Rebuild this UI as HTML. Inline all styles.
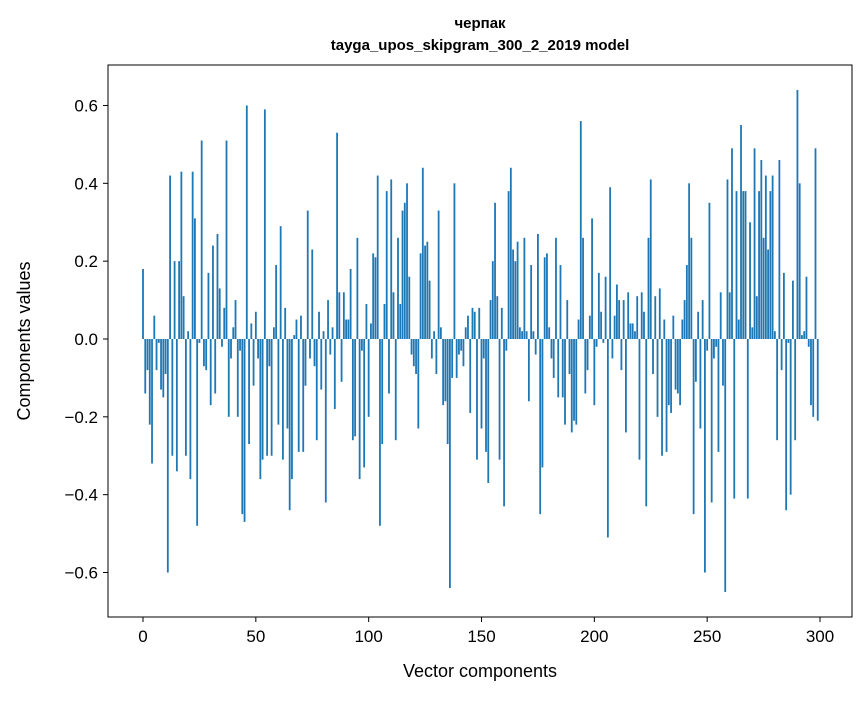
<!DOCTYPE html>
<html><head><meta charset="utf-8"><style>
body{margin:0;background:#fff;font-family:"Liberation Sans","DejaVu Sans",sans-serif;}
svg text{font-family:"Liberation Sans","DejaVu Sans",sans-serif;fill:#000;}
</style></head><body>
<svg id="chart" width="867" height="696" viewBox="0 0 867 696">
<text x="480" y="28" text-anchor="middle" font-size="15" font-weight="bold">черпак</text>
<text x="480" y="50" text-anchor="middle" font-size="15" font-weight="bold">tayga_upos_skipgram_300_2_2019 model</text>
<g id="bars"></g>
<rect x="108" y="65" width="744" height="552" fill="none" stroke="#000" stroke-width="1"/>
<g id="xticks"></g>
<g id="yticks"></g>
<text x="480" y="677" text-anchor="middle" font-size="18">Vector components</text>
<text x="30" y="341" text-anchor="middle" font-size="18" transform="rotate(-90 30 341)">Components values</text>
</svg>
<script>
const values=[0.18,-0.14,-0.08,-0.22,-0.32,0.06,-0.08,-0.01,-0.13,-0.15,
-0.09,-0.6,0.42,-0.3,0.2,-0.34,0.2,0.43,0.11,-0.3,
0.02,-0.36,0.43,0.31,-0.48,-0.01,0.51,-0.07,-0.08,0.17,
-0.17,0.24,-0.14,0.27,0.13,-0.02,0.08,0.51,-0.2,-0.05,
0.03,0.1,-0.2,-0.03,-0.45,-0.47,0.6,-0.27,0.04,-0.12,
0.07,-0.05,-0.36,-0.31,0.59,-0.3,-0.07,-0.3,0.03,0.19,
-0.22,0.29,-0.31,0.08,-0.23,-0.44,-0.36,0.01,0.05,-0.29,
0.06,-0.29,-0.12,0.33,-0.05,0.23,-0.07,-0.26,0.07,-0.13,
0.02,-0.42,0.1,-0.04,0.03,-0.18,0.53,0.12,-0.11,0.12,
0.05,0.05,0.18,-0.26,-0.25,0.26,-0.36,-0.03,-0.33,0.09,
-0.2,0.04,0.22,0.21,0.42,-0.48,-0.27,0.09,0.38,-0.14,
0.41,0.12,-0.26,0.26,0.09,0.33,0.35,0.4,0.16,-0.04,
-0.07,-0.09,-0.23,0.22,0.44,0.24,0.25,0.15,-0.05,0.02,
-0.09,0.33,0.03,-0.17,-0.16,-0.27,-0.64,-0.1,0.4,-0.1,
-0.04,-0.03,-0.07,0.03,0.06,-0.19,0.08,0.07,-0.31,0.08,
-0.23,-0.05,-0.29,-0.37,0.1,0.2,0.35,0.11,-0.31,0.08,
-0.43,-0.03,0.38,0.44,0.23,0.2,0.25,0.03,0.02,0.26,
0.02,-0.16,0.19,0.02,-0.04,0.27,-0.45,-0.33,0.21,0.22,
0.03,-0.05,-0.1,0.26,-0.15,0.19,-0.15,-0.22,0.1,-0.09,
-0.24,-0.21,-0.22,0.05,0.56,0.26,-0.14,-0.08,0.06,0.31,
-0.17,-0.02,0.17,0.07,-0.01,0.16,-0.51,0.39,-0.05,0.06,
0.14,0.1,-0.08,0.1,-0.24,0.12,0.04,0.04,0.02,0.11,
-0.31,0.12,0.07,-0.43,0.26,0.41,-0.09,0.11,-0.2,0.13,
-0.3,0.05,-0.29,-0.17,-0.19,0.06,-0.13,-0.14,-0.17,0.05,
0.1,0.19,0.4,0.26,-0.45,-0.11,0.07,-0.23,0.1,-0.6,
-0.03,0.35,-0.42,-0.05,-0.02,-0.29,0.12,-0.12,-0.65,0.41,
0.12,0.49,-0.41,0.38,0.05,0.55,0.38,0.38,-0.41,0.3,
0.03,0.49,0.11,0.38,0.46,0.26,0.42,0.23,0.38,0.42,
0.02,-0.26,0.46,-0.08,0.17,-0.44,-0.01,-0.4,0.15,-0.26,
0.64,0.4,0.01,0.02,0.16,-0.02,-0.17,-0.2,0.49,-0.21];
const xTicks=[0,50,100,150,200,250,300];
const yTicks=[-0.6,-0.4,-0.2,0.0,0.2,0.4,0.6];
const NS='http://www.w3.org/2000/svg';
function xs(v){return 143+v*(820-143)/300;}
function ys(v){return 339-v*(572-105)/1.2;}
const gb=document.getElementById('bars');
values.forEach((v,i)=>{
  const r=document.createElementNS(NS,'rect');
  const w=0.8*(820-143)/300;
  r.setAttribute('x',xs(i)-w/2);
  r.setAttribute('width',w);
  r.setAttribute('y',Math.min(ys(v),ys(0)));
  r.setAttribute('height',Math.abs(ys(v)-ys(0)));
  r.setAttribute('fill','#1f77b4');
  
  
  gb.appendChild(r);
});
const gx=document.getElementById('xticks');
xTicks.forEach(t=>{
  const l=document.createElementNS(NS,'line');
  l.setAttribute('x1',xs(t));l.setAttribute('x2',xs(t));
  l.setAttribute('y1',617);l.setAttribute('y2',622);
  l.setAttribute('stroke','#000');
  
  
  gx.appendChild(l);
  const tx=document.createElementNS(NS,'text');
  tx.setAttribute('x',xs(t));tx.setAttribute('y',642);
  tx.setAttribute('text-anchor','middle');tx.setAttribute('font-size','17');
  tx.textContent=t;
  
  
  gx.appendChild(tx);
});
const gy=document.getElementById('yticks');
yTicks.forEach(t=>{
  const l=document.createElementNS(NS,'line');
  l.setAttribute('x1',103);l.setAttribute('x2',108);
  l.setAttribute('y1',ys(t));l.setAttribute('y2',ys(t));
  l.setAttribute('stroke','#000');
  
  
  gy.appendChild(l);
  const tx=document.createElementNS(NS,'text');
  tx.setAttribute('x',98);tx.setAttribute('y',ys(t)+6);
  tx.setAttribute('text-anchor','end');tx.setAttribute('font-size','17');
  tx.textContent=(t<0?'\u2212':'')+Math.abs(t).toFixed(1);
  
  
  gy.appendChild(tx);
});
</script>
</body></html>
